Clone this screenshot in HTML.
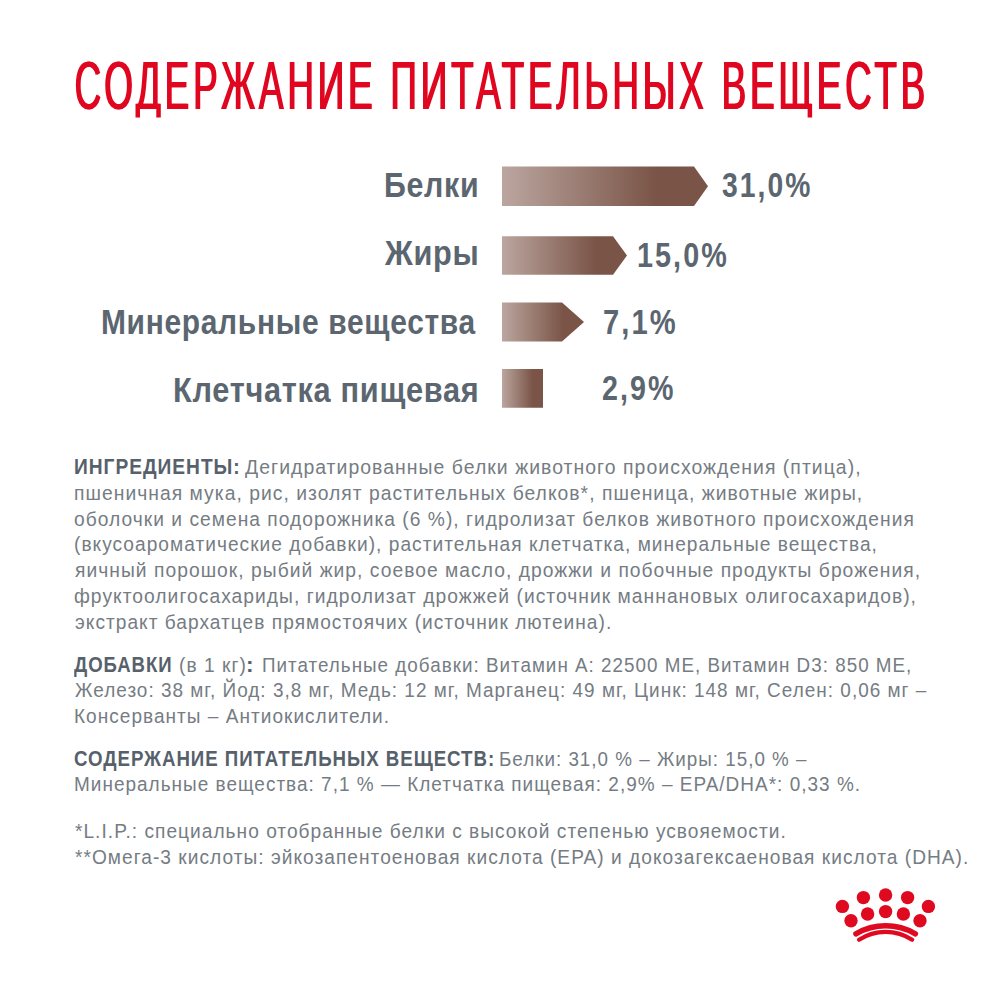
<!DOCTYPE html>
<html><head><meta charset="utf-8"><style>
html,body{margin:0;padding:0;background:#fff;width:1000px;height:1000px;overflow:hidden}
body{position:relative;font-family:"Liberation Sans",sans-serif}
.ln{position:absolute;white-space:nowrap;transform-origin:0 0;line-height:1}
</style></head><body>
<svg style="position:absolute;left:0;top:0" width="1000" height="1000" viewBox="0 0 1000 1000"><defs><linearGradient id="g1" gradientUnits="userSpaceOnUse" x1="502" y1="0" x2="708" y2="0"><stop offset="0" stop-color="#bba69f"/><stop offset="0.75" stop-color="#7a5447"/><stop offset="1" stop-color="#7a5447"/></linearGradient><linearGradient id="g2" gradientUnits="userSpaceOnUse" x1="502" y1="0" x2="627" y2="0"><stop offset="0" stop-color="#bba69f"/><stop offset="0.75" stop-color="#7a5447"/><stop offset="1" stop-color="#7a5447"/></linearGradient><linearGradient id="g3" gradientUnits="userSpaceOnUse" x1="502" y1="0" x2="584" y2="0"><stop offset="0" stop-color="#bba69f"/><stop offset="0.75" stop-color="#7a5447"/><stop offset="1" stop-color="#7a5447"/></linearGradient><linearGradient id="g4" gradientUnits="userSpaceOnUse" x1="502" y1="0" x2="543" y2="0"><stop offset="0" stop-color="#bba69f"/><stop offset="0.75" stop-color="#7a5447"/><stop offset="1" stop-color="#7a5447"/></linearGradient></defs>
<polygon fill="url(#g1)" points="502,166.5 694,166.5 708,186.3 694,206 502,206"/>
<polygon fill="url(#g2)" points="502,236.3 613,236.3 627,255.5 613,274.7 502,274.7"/>
<polygon fill="url(#g3)" points="502,302.6 562,302.6 584,322 562,341.4 502,341.4"/>
<polygon fill="url(#g4)" points="502,369 543,369 543,407.7 502,407.7"/>
</svg>
<div id="t" class="ln" style="left:74.38px;top:51.01px;font-size:68.30px;font-weight:400;color:#e0061f;letter-spacing:7.00px;transform:scaleX(0.5402);text-shadow:2.41px 0 0 #e0061f;clip-path:inset(-20px -20px 1.71px -20px)"><i style="display:inline-block;width:0;height:0"></i>СОДЕРЖАНИЕ ПИТАТЕЛЬНЫХ ВЕЩЕСТВ</div>
<div id="l1" class="ln" style="left:384.01px;top:167.50px;font-size:34.50px;font-weight:700;color:#5b6670;letter-spacing:0.80px;transform:scaleX(0.8799)"><i style="display:inline-block;width:0;height:0"></i>Белки</div>
<div id="l2" class="ln" style="left:385.00px;top:235.50px;font-size:34.50px;font-weight:700;color:#5b6670;letter-spacing:0.80px;transform:scaleX(0.8898)"><i style="display:inline-block;width:0;height:0"></i>Жиры</div>
<div id="l3" class="ln" style="left:100.69px;top:304.90px;font-size:34.50px;font-weight:700;color:#5b6670;letter-spacing:0.80px;transform:scaleX(0.8673)"><i style="display:inline-block;width:0;height:0"></i>Минеральные вещества</div>
<div id="l4" class="ln" style="left:172.73px;top:372.50px;font-size:34.50px;font-weight:700;color:#5b6670;letter-spacing:0.80px;transform:scaleX(0.8898)"><i style="display:inline-block;width:0;height:0"></i>Клетчатка пищевая</div>
<div id="p1" class="ln" style="left:722.17px;top:168.10px;font-size:34.50px;font-weight:700;color:#5b6670;letter-spacing:2.50px;transform:scaleX(0.8190)"><i style="display:inline-block;width:0;height:0"></i>31,0%</div>
<div id="p2" class="ln" style="left:636.93px;top:237.50px;font-size:34.50px;font-weight:700;color:#5b6670;letter-spacing:2.50px;transform:scaleX(0.8327)"><i style="display:inline-block;width:0;height:0"></i>15,0%</div>
<div id="p3" class="ln" style="left:603.16px;top:304.50px;font-size:34.50px;font-weight:700;color:#5b6670;letter-spacing:2.50px;transform:scaleX(0.8449)"><i style="display:inline-block;width:0;height:0"></i>7,1%</div>
<div id="p4" class="ln" style="left:601.56px;top:371.21px;font-size:34.50px;font-weight:700;color:#5b6670;letter-spacing:2.50px;transform:scaleX(0.8303)"><i style="display:inline-block;width:0;height:0"></i>2,9%</div>
<div id="a1b" class="ln" style="left:74.11px;top:456.81px;font-size:21.50px;font-weight:700;color:#57616b;letter-spacing:1.10px;transform:scaleX(0.8913)"><i style="display:inline-block;width:0;height:0"></i>ИНГРЕДИЕНТЫ:</div>
<div id="a1" class="ln" style="left:245.00px;top:456.81px;font-size:20.50px;font-weight:400;color:#757c83;letter-spacing:1.10px;transform:scaleX(0.9465)"><i style="display:inline-block;width:0;height:0"></i>Дегидратированные белки животного происхождения (птица),</div>
<div id="a2" class="ln" style="left:74.06px;top:482.81px;font-size:20.50px;font-weight:400;color:#757c83;letter-spacing:1.10px;transform:scaleX(0.9404)"><i style="display:inline-block;width:0;height:0"></i>пшеничная мука, рис, изолят растительных белков*, пшеница, животные жиры,</div>
<div id="a3" class="ln" style="left:74.06px;top:508.60px;font-size:20.50px;font-weight:400;color:#757c83;letter-spacing:1.10px;transform:scaleX(0.9362)"><i style="display:inline-block;width:0;height:0"></i>оболочки и семена подорожника (6 %), гидролизат белков животного происхождения</div>
<div id="a4" class="ln" style="left:74.07px;top:534.22px;font-size:20.50px;font-weight:400;color:#757c83;letter-spacing:1.10px;transform:scaleX(0.9330)"><i style="display:inline-block;width:0;height:0"></i>(вкусоароматические добавки), растительная клетчатка, минеральные вещества,</div>
<div id="a5" class="ln" style="left:75.00px;top:560.01px;font-size:20.50px;font-weight:400;color:#757c83;letter-spacing:1.10px;transform:scaleX(0.9388)"><i style="display:inline-block;width:0;height:0"></i>яичный порошок, рыбий жир, соевое масло, дрожжи и побочные продукты брожения,</div>
<div id="a6" class="ln" style="left:74.06px;top:585.81px;font-size:20.50px;font-weight:400;color:#757c83;letter-spacing:1.10px;transform:scaleX(0.9385)"><i style="display:inline-block;width:0;height:0"></i>фруктоолигосахариды, гидролизат дрожжей (источник маннановых олигосахаридов),</div>
<div id="a7" class="ln" style="left:75.07px;top:611.60px;font-size:20.50px;font-weight:400;color:#757c83;letter-spacing:1.10px;transform:scaleX(0.9328)"><i style="display:inline-block;width:0;height:0"></i>экстракт бархатцев прямостоячих (источник лютеина).</div>
<div id="b1b" class="ln" style="left:74.43px;top:654.60px;font-size:21.50px;font-weight:700;color:#57616b;letter-spacing:1.10px;transform:scaleX(0.8645)"><i style="display:inline-block;width:0;height:0"></i>ДОБАВКИ</div>
<div id="b1p" class="ln" style="left:179.43px;top:654.60px;font-size:20.50px;font-weight:400;color:#757c83;letter-spacing:1.10px;transform:scaleX(0.9349)"><i style="display:inline-block;width:0;height:0"></i>(в 1 кг)</div>
<div id="b1c" class="ln" style="left:245.58px;top:654.60px;font-size:21.50px;font-weight:700;color:#57616b;letter-spacing:1.10px;transform:scaleX(1.0581)"><i style="display:inline-block;width:0;height:0"></i>:</div>
<div id="b1" class="ln" style="left:262.28px;top:654.60px;font-size:20.50px;font-weight:400;color:#757c83;letter-spacing:1.10px;transform:scaleX(0.9184)"><i style="display:inline-block;width:0;height:0"></i>Питательные добавки: Витамин А: 22500 МЕ, Витамин D3: 850 МЕ,</div>
<div id="b2" class="ln" style="left:75.00px;top:680.22px;font-size:20.50px;font-weight:400;color:#757c83;letter-spacing:1.10px;transform:scaleX(0.9236)"><i style="display:inline-block;width:0;height:0"></i>Железо: 38 мг, Йод: 3,8 мг, Медь: 12 мг, Марганец: 49 мг, Цинк: 148 мг, Селен: 0,06 мг –</div>
<div id="b3" class="ln" style="left:74.13px;top:706.01px;font-size:20.50px;font-weight:400;color:#757c83;letter-spacing:1.10px;transform:scaleX(0.9288)"><i style="display:inline-block;width:0;height:0"></i>Консерванты – Антиокислители.</div>
<div id="c1b" class="ln" style="left:74.13px;top:748.81px;font-size:21.50px;font-weight:700;color:#57616b;letter-spacing:1.10px;transform:scaleX(0.8692)"><i style="display:inline-block;width:0;height:0"></i>СОДЕРЖАНИЕ ПИТАТЕЛЬНЫХ ВЕЩЕСТВ:</div>
<div id="c1" class="ln" style="left:498.86px;top:748.81px;font-size:20.50px;font-weight:400;color:#757c83;letter-spacing:1.10px;transform:scaleX(0.9171)"><i style="display:inline-block;width:0;height:0"></i>Белки: 31,0 % – Жиры: 15,0 % –</div>
<div id="c2" class="ln" style="left:74.13px;top:774.41px;font-size:20.50px;font-weight:400;color:#757c83;letter-spacing:1.10px;transform:scaleX(0.9246)"><i style="display:inline-block;width:0;height:0"></i>Минеральные вещества: 7,1 % — Клетчатка пищевая: 2,9% – EPA/DHA*: 0,33 %.</div>
<div id="d1" class="ln" style="left:75.00px;top:821.10px;font-size:20.50px;font-weight:400;color:#757c83;letter-spacing:1.10px;transform:scaleX(0.9324)"><i style="display:inline-block;width:0;height:0"></i>*L.I.P.: специально отобранные белки с высокой степенью усвояемости.</div>
<div id="d2" class="ln" style="left:75.00px;top:846.72px;font-size:20.50px;font-weight:400;color:#757c83;letter-spacing:1.10px;transform:scaleX(0.9330)"><i style="display:inline-block;width:0;height:0"></i>**Омега-3 кислоты: эйкозапентоеновая кислота (EPA) и докозагексаеновая кислота (DHA).</div>
<svg style="position:absolute;left:0;top:0" width="1000" height="1000" viewBox="0 0 1000 1000">
<g fill="#e00a20">
<circle cx="885.6" cy="895" r="6.7"/>
<circle cx="863.4" cy="897.6" r="6.7"/><circle cx="907.6" cy="897.6" r="6.7"/>
<circle cx="842.4" cy="906.4" r="6.7"/><circle cx="928.4" cy="906.4" r="6.7"/>
<circle cx="867.6" cy="914" r="6.7"/><circle cx="885.6" cy="911.6" r="6.7"/><circle cx="903.4" cy="914" r="6.7"/>
<circle cx="851" cy="920.7" r="6.7"/><circle cx="920" cy="920.7" r="6.7"/>
</g>
<g fill="none" stroke="#e00a20" stroke-linecap="round">
<path d="M855.9,933.8 A59.3,59.3 0 0 1 915.4,933.8" stroke-width="5.4"/>
<path d="M859,939.7 A48.7,48.7 0 0 1 912.2,939.7" stroke-width="4.2"/>
</g>
</svg>
</body></html>
